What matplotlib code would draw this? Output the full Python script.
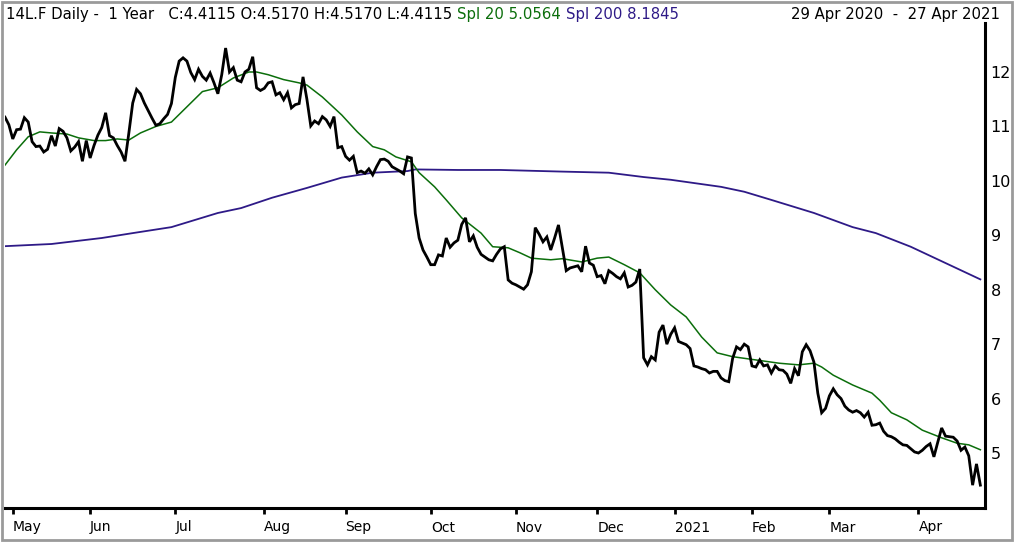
import matplotlib.pyplot as plt
from matplotlib.patches import Rectangle
import numpy as np
import pandas as pd

# daily closes, 29 Apr 2020 .. 27 Apr 2021 (Frankfurt trading days)
close = [
    11.17, 11.03, 10.77, 10.94, 10.95, 11.16, 11.08, 10.72, 10.63, 10.64,
    10.53, 10.58, 10.83, 10.64, 10.96, 10.91, 10.79, 10.55, 10.62, 10.72,
    10.36, 10.74, 10.42, 10.65, 10.84, 10.98, 11.25, 10.83, 10.79, 10.65,
    10.53, 10.36, 10.88, 11.43, 11.68, 11.60, 11.43, 11.29, 11.15, 11.02,
    11.05, 11.14, 11.22, 11.42, 11.90, 12.20, 12.26, 12.20, 11.99, 11.86,
    12.05, 11.92, 11.85, 11.98, 11.80, 11.60, 11.95, 12.44, 12.00, 12.08,
    11.85, 11.82, 12.00, 12.05, 12.28, 11.71, 11.66, 11.70, 11.80, 11.82,
    11.58, 11.62, 11.49, 11.62, 11.34, 11.40, 11.42, 11.91, 11.50, 11.01,
    11.10, 11.05, 11.18, 11.12, 11.00, 11.18, 10.61, 10.63, 10.45, 10.38,
    10.45, 10.15, 10.18, 10.14, 10.22, 10.11, 10.26, 10.39, 10.40, 10.36,
    10.26, 10.22, 10.18, 10.13, 10.44, 10.42, 9.40, 8.95, 8.73, 8.60,
    8.46, 8.46, 8.64, 8.62, 8.95, 8.78, 8.86, 8.91, 9.20, 9.32,
    8.88, 8.99, 8.78, 8.65, 8.60, 8.55, 8.53, 8.65, 8.75, 8.79,
    8.18, 8.12, 8.09, 8.05, 8.01, 8.09, 8.33, 9.14, 9.02, 8.88,
    8.97, 8.73, 8.95, 9.19, 8.77, 8.35, 8.40, 8.42, 8.44, 8.33,
    8.80, 8.49, 8.45, 8.24, 8.26, 8.11, 8.35, 8.30, 8.24, 8.20,
    8.31, 8.05, 8.08, 8.14, 8.38, 6.75, 6.62, 6.77, 6.71, 7.22,
    7.35, 7.00, 7.18, 7.30, 7.05, 7.02, 6.99, 6.92, 6.60, 6.58,
    6.55, 6.53, 6.47, 6.50, 6.50, 6.38, 6.33, 6.31, 6.74, 6.95,
    6.90, 7.00, 6.95, 6.60, 6.58, 6.71, 6.60, 6.62, 6.47, 6.60,
    6.53, 6.52, 6.45, 6.28, 6.55, 6.42, 6.86, 6.99, 6.88, 6.67,
    6.10, 5.74, 5.82, 6.05, 6.18, 6.07, 6.00, 5.86, 5.79, 5.75,
    5.78, 5.74, 5.66, 5.75, 5.51, 5.52, 5.55, 5.40, 5.32, 5.30,
    5.26, 5.20, 5.15, 5.14, 5.08, 5.02, 5.00, 5.05, 5.12, 5.17,
    4.93, 5.20, 5.46, 5.31, 5.30, 5.29, 5.22, 5.05, 5.11, 4.95,
    4.41, 4.80, 4.41,
]

# moving averages (trading-day index, value)
sma20_idx = [0, 3, 6, 9, 12, 16, 19, 23, 26, 29, 32, 35, 39, 43, 47, 51, 55, 59,
             63, 65, 68, 72, 76, 78, 82, 87, 91, 95, 98, 101, 105, 107, 111, 114,
             118, 123, 126, 130, 133, 136, 141, 144, 149, 153, 156, 160, 164, 168,
             172, 176, 180, 184, 188, 194, 200, 205, 209, 211, 214, 219, 224, 226,
             229, 233, 237, 242, 246, 249, 252]
sma20_val = [10.29, 10.57, 10.81, 10.90, 10.88, 10.86, 10.79, 10.74, 10.74, 10.77,
             10.75, 10.88, 11.00, 11.08, 11.36, 11.64, 11.71, 11.89, 12.00, 12.00,
             11.95, 11.86, 11.80, 11.76, 11.54, 11.21, 10.90, 10.63, 10.57, 10.44,
             10.35, 10.15, 9.89, 9.65, 9.32, 9.04, 8.79, 8.77, 8.68, 8.58, 8.55,
             8.57, 8.51, 8.58, 8.60, 8.46, 8.31, 8.00, 7.72, 7.50, 7.13, 6.84,
             6.77, 6.71, 6.65, 6.62, 6.65, 6.58, 6.43, 6.25, 6.10, 5.97, 5.74,
             5.61, 5.42, 5.28, 5.18, 5.15, 5.06]

sma200_idx = [0, 12, 25, 33, 43, 55, 61, 69, 78, 87, 95, 104, 106, 117, 128, 144,
              156, 165, 172, 185, 191, 198, 209, 219, 225, 234, 243, 252]
sma200_val = [8.80, 8.84, 8.95, 9.04, 9.15, 9.41, 9.50, 9.69, 9.87, 10.06, 10.15,
              10.18, 10.21, 10.20, 10.20, 10.17, 10.15, 10.07, 10.02, 9.89, 9.80,
              9.65, 9.41, 9.15, 9.04, 8.79, 8.49, 8.19]

holidays = ['2020-05-01', '2020-12-24', '2020-12-25', '2020-12-31',
            '2021-01-01', '2021-04-02', '2021-04-05']
dates = pd.bdate_range('2020-04-29', '2021-04-27', freq='C', holidays=holidays)

header = "14L.F Daily -  1 Year   C:4.4115 O:4.5170 H:4.5170 L:4.4115 "
sma20_label = "Spl 20 5.0564 "
sma200_label = "Spl 200 8.1845"
range_label = "29 Apr 2020  -  27 Apr 2021"

green = '#0b6e0b'
purple = '#2e1a87'

fig = plt.figure(figsize=(10.14, 5.42), dpi=100)
ax = fig.add_axes([5 / 1014, 34 / 542, 980 / 1014, 485 / 542])

x = np.arange(len(close))
ax.plot(sma200_idx, sma200_val, color=purple, lw=1.3)
ax.plot(sma20_idx, sma20_val, color=green, lw=1.1)
ax.plot(x, close, color='black', lw=2.0, solid_joinstyle='miter')

ax.set_xlim(0, 253.2)
ax.set_ylim(3.99, 12.9)

# month ticks at first trading day of each month
months = pd.Series(np.arange(len(dates)), index=dates)
firsts = months.groupby([dates.year, dates.month]).first()
tick_pos = list(firsts.values)[1:]
tick_lab = []
for (yr, mo) in list(firsts.index)[1:]:
    tick_lab.append(str(yr) if mo == 1 else pd.Timestamp(yr, mo, 1).strftime('%b'))
ax.set_xticks(tick_pos)
ax.set_xticklabels(tick_lab, ha='left', fontsize=10)
ax.tick_params(axis='x', direction='out', length=4, width=2, pad=5, color='black')

ax.yaxis.tick_right()
ax.set_yticks(range(5, 13))
ax.tick_params(axis='y', length=0, pad=4, labelsize=11.5)

for s in ['left', 'top']:
    ax.spines[s].set_visible(False)
for s in ['right', 'bottom']:
    ax.spines[s].set_linewidth(2.2)

# header line
t1 = fig.text(6 / 1014, 1 - 15 / 542, header, va='center', ha='left', fontsize=10.7)
t2 = ax.annotate(sma20_label, xy=(1, 0.5), xycoords=t1, va='center', ha='left',
                 color=green, fontsize=10.7, annotation_clip=False)
ax.annotate(sma200_label, xy=(1, 0.5), xycoords=t2, va='center', ha='left',
            color=purple, fontsize=10.7, annotation_clip=False)
fig.text(1000 / 1014, 1 - 15 / 542, range_label, va='center', ha='right', fontsize=10.7)

# picture frame
fig.patches.append(Rectangle((0.0015, 0.003), 0.997, 0.994, transform=fig.transFigure,
                             fill=False, edgecolor='#9a9a9a', lw=2))

fig.savefig('out.png', dpi=100)
